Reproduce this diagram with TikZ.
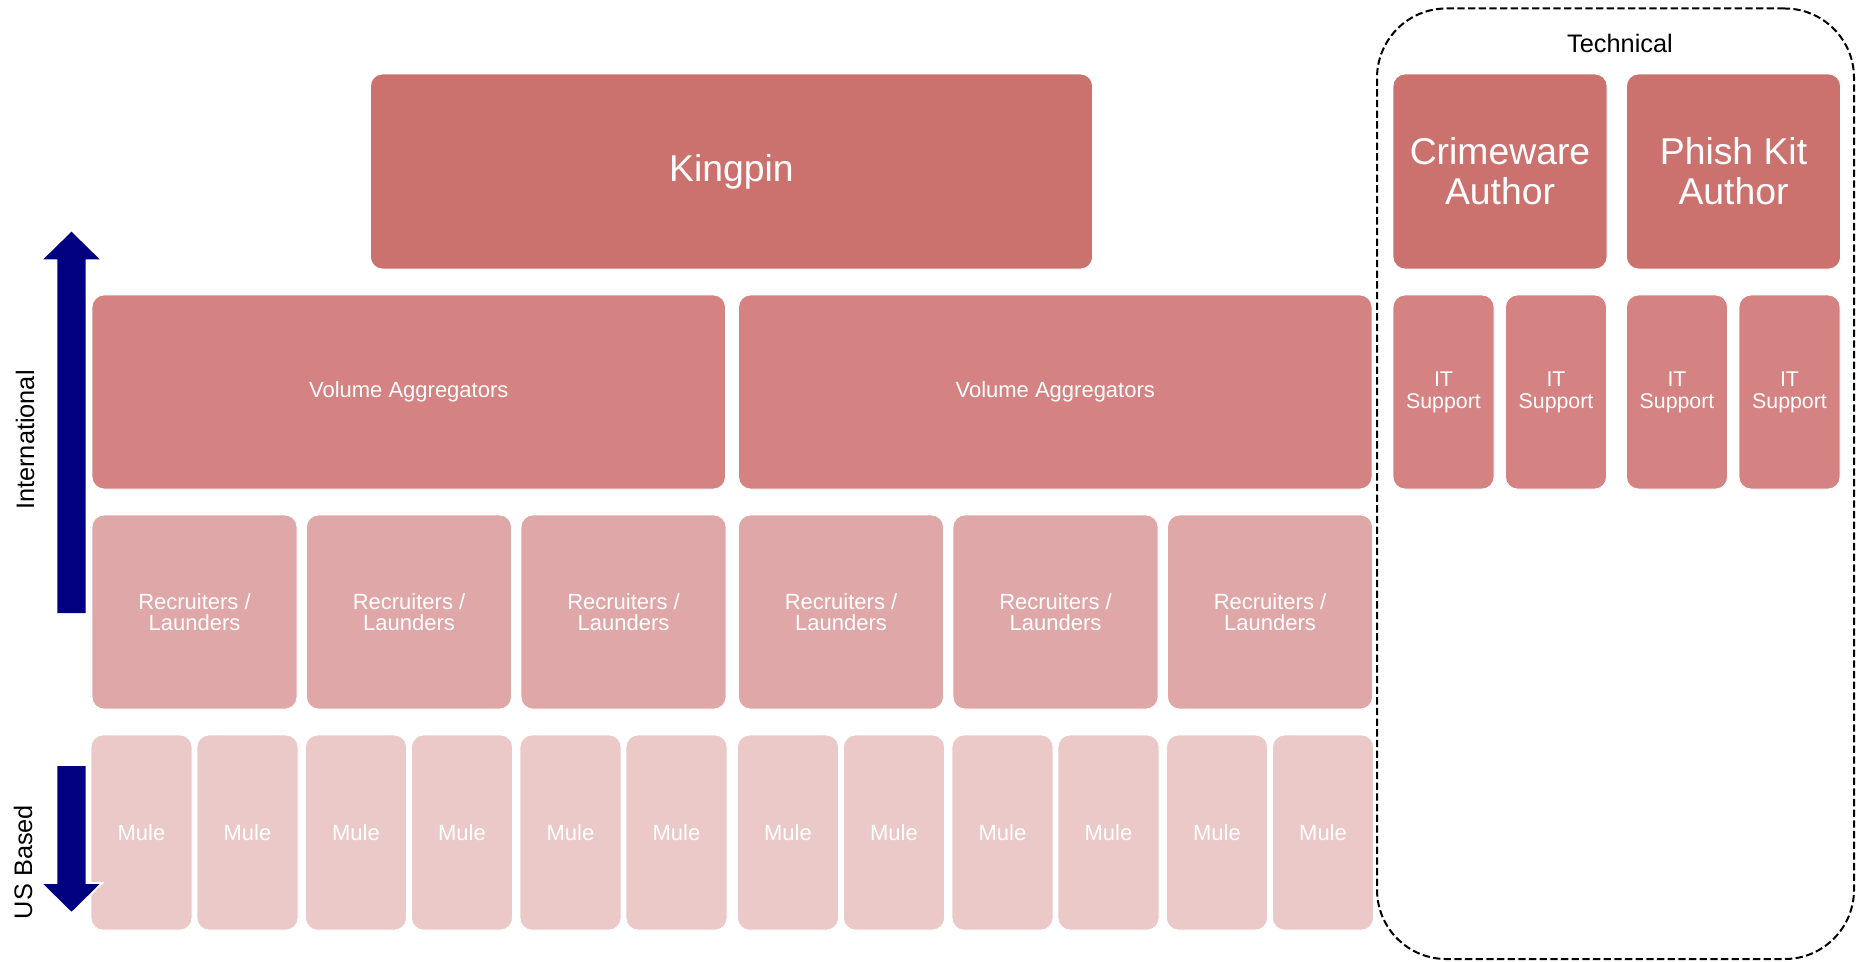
\documentclass[tikz,border=0pt]{standalone}
\usepackage{fontspec}
\setmainfont{Liberation Sans}
\usepackage{tikz}
\usetikzlibrary{calc}

\definecolor{kingred}{RGB}{203,114,110}
\definecolor{aggred}{RGB}{212,130,130}
\definecolor{recred}{RGB}{223,167,167}
\definecolor{mulered}{RGB}{235,201,201}
\definecolor{arrowblue}{RGB}{0,0,128}

\begin{document}
\begin{tikzpicture}[x=0.75pt, y=-0.75pt,
        box/.style={rectangle, rounded corners=9pt, draw=white, line width=0.6pt, text=white, align=center, inner sep=0pt},
        topbox/.style={box, fill=kingred, minimum height=146.25pt, font=\fontsize{28}{30}\selectfont},
        aggbox/.style={box, fill=aggred, minimum width=475pt, minimum height=145.5pt, font=\fontsize{16.5}{16.5}\selectfont},
        itbox/.style={box, fill=aggred, minimum width=75.75pt, minimum height=145.5pt, font=\fontsize{16}{16.3}\selectfont},
        recbox/.style={box, fill=recred, minimum width=153.75pt, minimum height=145.5pt, font=\fontsize{16.5}{16}\selectfont},
        mulebox/.style={box, fill=mulered, minimum width=75.75pt, minimum height=146.25pt, font=\fontsize{16.5}{16.5}\selectfont},
        sidelabel/.style={rotate=90, font=\fontsize{19}{19}\selectfont}]
        \useasboundingbox (0,0) rectangle (1856,961);

        \node[rectangle, draw, dashed, dash pattern=on 5.5pt off 2.5pt, line width=1.5pt, rounded corners=52pt,
            minimum width=357.75pt, minimum height=712.9pt] (techgroup) at (1615.5,483.75) {};
        \node[font=\fontsize{19}{19}\selectfont] (technical) at (1620,43) {Technical};

        \node[topbox, minimum width=541.5pt] (kingpin) at (731.5,171.5) {Kingpin};
        \node[topbox, minimum width=160.5pt] (crimeware) at (1500,171.5) {Crimeware\\Author};
        \node[topbox, minimum width=160.5pt] (phishkit) at (1733.5,171.5) {Phish Kit\\Author};

        \node[aggbox] (agg1) at (408.75,392) {Volume Aggregators};
        \node[aggbox] (agg2) at (1055.25,392) {Volume Aggregators};

        \foreach \c [count=\i] in {1443.5,1556,1677,1789.5} {
            \node[itbox] (it\i) at (\c,392) {IT\\Support};
        }

        \foreach \c [count=\i] in {194.5,409,623.5,841,1055.5,1270} {
            \node[recbox] (rec\i) at (\c,612) {Recruiters /\\Launders};
            \node[mulebox] (mule\i a) at (\c-53,832.5) {Mule};
            \node[mulebox] (mule\i b) at (\c+53,832.5) {Mule};
        }

        \fill[arrowblue] (57.3,613) -- (57.3,259.3) -- (43.3,259.3) -- (71.5,231.7) -- (99.7,259.3) -- (85.7,259.3) -- (85.7,613) -- cycle;
        \fill[arrowblue, preaction={draw=white, line width=3pt}] (57.3,766) -- (57.3,884) -- (43.3,884) -- (71.5,911.7) -- (99.7,884) -- (85.7,884) -- (85.7,766) -- cycle;

        \node[sidelabel] (international) at (25,440) {International};
        \node[sidelabel] (usbased) at (23,862) {US Based};

    \end{tikzpicture}
\end{document}
